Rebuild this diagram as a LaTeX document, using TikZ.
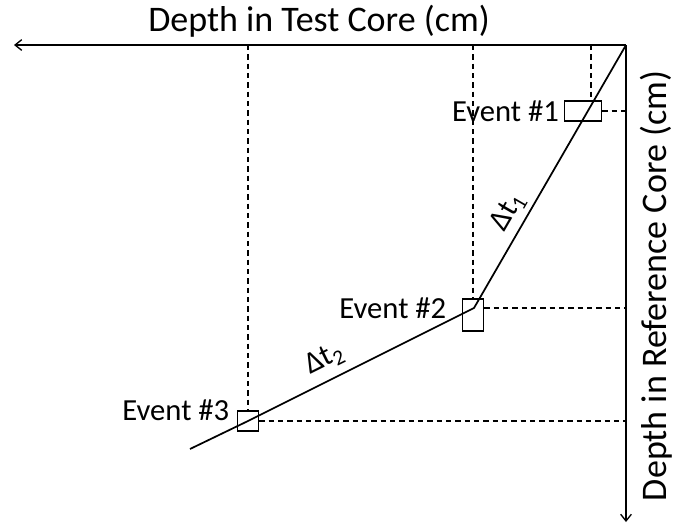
\documentclass[tikz,border=0pt]{standalone}
\usepackage{fontspec}
\setmainfont{Carlito}
\usetikzlibrary{arrows.meta,positioning}

\tikzset{
  axis/.style={line width=1pt, -{Straight Barb[length=5pt,width=8pt]}},
  guide/.style={line width=0.8pt, dash pattern=on 4pt off 3pt},
  core/.style={line width=1.3pt},
  eventbox/.style={draw, line width=1.3pt, inner sep=0pt},
  titletext/.style={font=\fontsize{27}{31}\selectfont},
  tagtext/.style={font=\fontsize{23}{27}\selectfont},
}

\begin{document}
\begin{tikzpicture}[x=0.75pt,y=-0.75pt]
\useasboundingbox (0,0) rectangle (679,529);

% axes
\coordinate (o) at (626,45);
\coordinate (xend) at (14,45);
\coordinate (yend) at (626,522);
\draw[axis] (o) -- (xend);
\draw[axis] (o) -- (yend);
\node[titletext] (xlab) at (319,21) {Depth in Test Core (cm)};
\node[titletext, rotate=90] (ylab) at (656,286) {Depth in Reference Core (cm)};

% kinks of the age-depth line
\coordinate (k2) at (474,308);
\coordinate (k3) at (248,421);
\coordinate (tail) at (190,449);

% events
\node[eventbox, minimum width=27.75pt, minimum height=15pt] (e1) at (583,111) {};
\node[eventbox, minimum width=15.75pt, minimum height=24pt] (e2) at (473,315) {};
\node[eventbox, minimum width=15.75pt, minimum height=15pt] (e3) at (248,421) {};
\node[tagtext, left=0pt of e1] (l1) {Event \#1};
\node[tagtext, left=8pt of e2, yshift=5pt] (l2) {Event \#2};
\node[tagtext, left=2pt of e3, yshift=8pt] (l3) {Event \#3};

% projections onto the axes
\coordinate (v1) at (591,45);
\draw[guide] (v1) -- (e1.north -| v1);
\draw[guide] (e1.east) -- (e1.east -| o);
\draw[guide] (e2.north |- o) -- (e2.north);
\draw[guide] (e2.east |- k2) -- (k2 -| o);
\draw[guide] (e3.north |- o) -- (e3.north);
\draw[guide] (e3.east) -- (e3.east -| o);

% age-depth line
\draw[core] (o) -- (k2) -- (k3) -- (tail);
\path (k2) -- node[pos=0.33, sloped, above=1pt, tagtext] (dt1) {Δt\textsubscript{1}} (o);
\path (k3) -- node[pos=0.38, sloped, above=3pt, tagtext] (dt2) {Δt\textsubscript{2}} (k2);
\end{tikzpicture}
\end{document}
